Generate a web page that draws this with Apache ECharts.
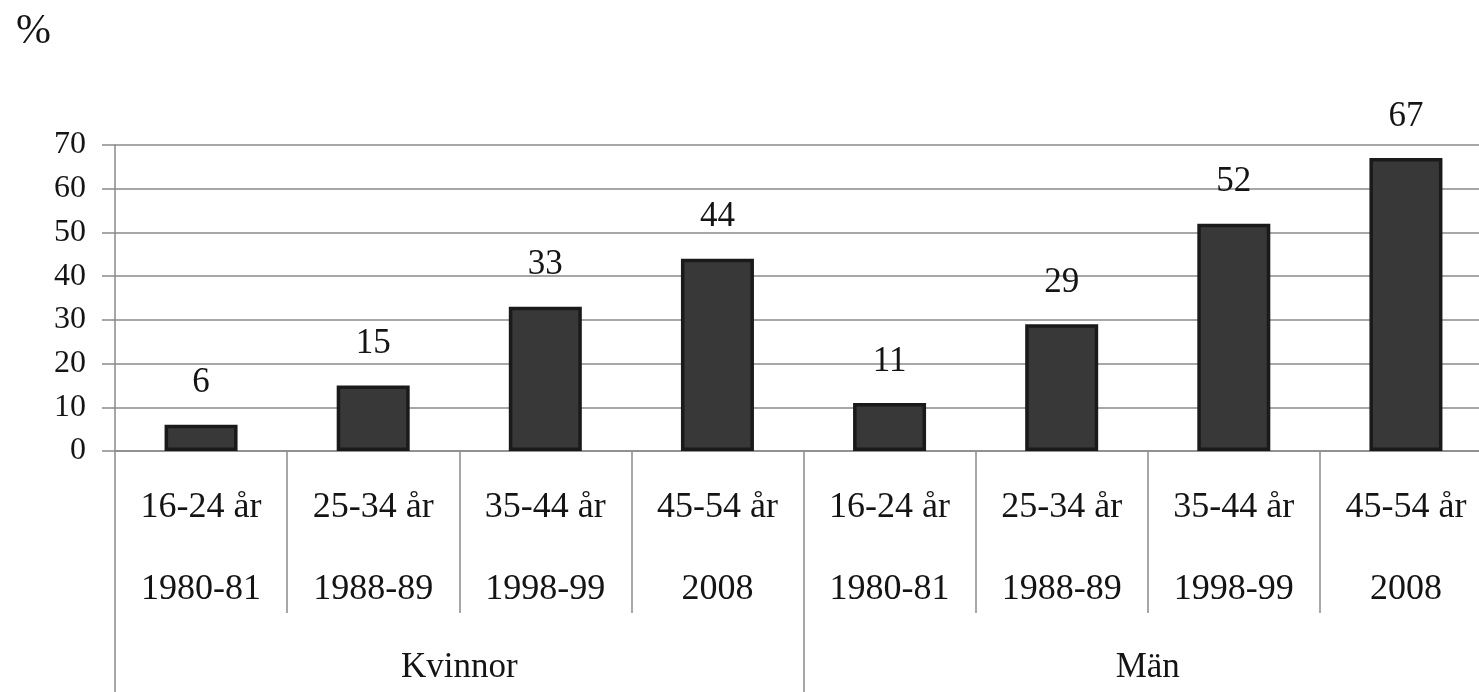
<!DOCTYPE html>
<html>
<head>
<meta charset="utf-8">
<title>Andel per åldersgrupp</title>
<script src="https://cdn.jsdelivr.net/npm/echarts@6/dist/echarts.min.js"></script>
<style>
  html, body { margin: 0; padding: 0; background: #fff; overflow: hidden; }
  /* the plot runs slightly past the right edge of the window */
  #chart { width: 1500px; height: 692px; }
</style>
</head>
<body>
<div id="chart"></div>
<script>
// Age groups and survey years (one per bar)
const ageGroups = ['16-24 år', '25-34 år', '35-44 år', '45-54 år', '16-24 år', '25-34 år', '35-44 år', '45-54 år'];
const surveyYears = ['1980-81', '1988-89', '1998-99', '2008', '1980-81', '1988-89', '1998-99', '2008'];
// Outer grouping: women / men
const groups = ['Kvinnor', 'Män'];
// Percent values
const values = [6, 15, 33, 44, 11, 29, 52, 67];
// Y axis range
const yMin = 0, yMax = 70, yStep = 10;

const serif = '"Liberation Serif", "DejaVu Serif", serif';
const textColor = '#141414';
const lineColor = '#8a8a8a';

const chart = echarts.init(document.getElementById('chart'));
chart.setOption({
  animation: false,
  title: {
    text: '%',
    left: 11,
    top: 6,
    textStyle: { fontFamily: serif, fontSize: 42, fontWeight: 'normal', color: textColor }
  },
  grid: { left: 115, top: 145, width: 1377, height: 306, containLabel: false },
  xAxis: [
    {
      type: 'category',
      data: ageGroups.map((a, i) => a + '\n' + surveyYears[i]),
      boundaryGap: true,
      axisLine: { show: true, lineStyle: { color: lineColor, width: 1.5 } },
      axisTick: { show: true, interval: 0, length: 162, lineStyle: { color: lineColor, width: 1.5 } },
      axisLabel: {
        interval: 0,
        margin: 16,
        fontFamily: serif,
        fontSize: 36,
        lineHeight: 82,
        color: textColor
      }
    },
    {
      type: 'category',
      data: groups,
      position: 'bottom',
      boundaryGap: true,
      axisLine: { show: false },
      axisTick: { show: true, interval: 0, length: 241, lineStyle: { color: lineColor, width: 1.5 } },
      axisLabel: {
        interval: 0,
        margin: 197,
        fontFamily: serif,
        fontSize: 35,
        lineHeight: 40,
        color: textColor
      }
    }
  ],
  yAxis: {
    type: 'value',
    min: yMin,
    max: yMax,
    interval: yStep,
    axisLine: { show: true, lineStyle: { color: lineColor, width: 1.5 } },
    axisTick: { show: true, length: 13, lineStyle: { color: lineColor, width: 1.5 } },
    splitLine: { show: true, lineStyle: { color: lineColor, width: 1.5 } },
    axisLabel: { margin: 29, fontFamily: serif, fontSize: 32, color: textColor }
  },
  series: [
    {
      type: 'bar',
      xAxisIndex: 0,
      data: values,
      barWidth: 73,
      itemStyle: { color: '#383838', borderColor: '#1a1a1a', borderWidth: 3.5 },
      label: {
        show: true,
        position: 'top',
        distance: 24,
        fontFamily: serif,
        fontSize: 35,
        color: textColor
      }
    }
  ]
});
</script>
</body>
</html>
